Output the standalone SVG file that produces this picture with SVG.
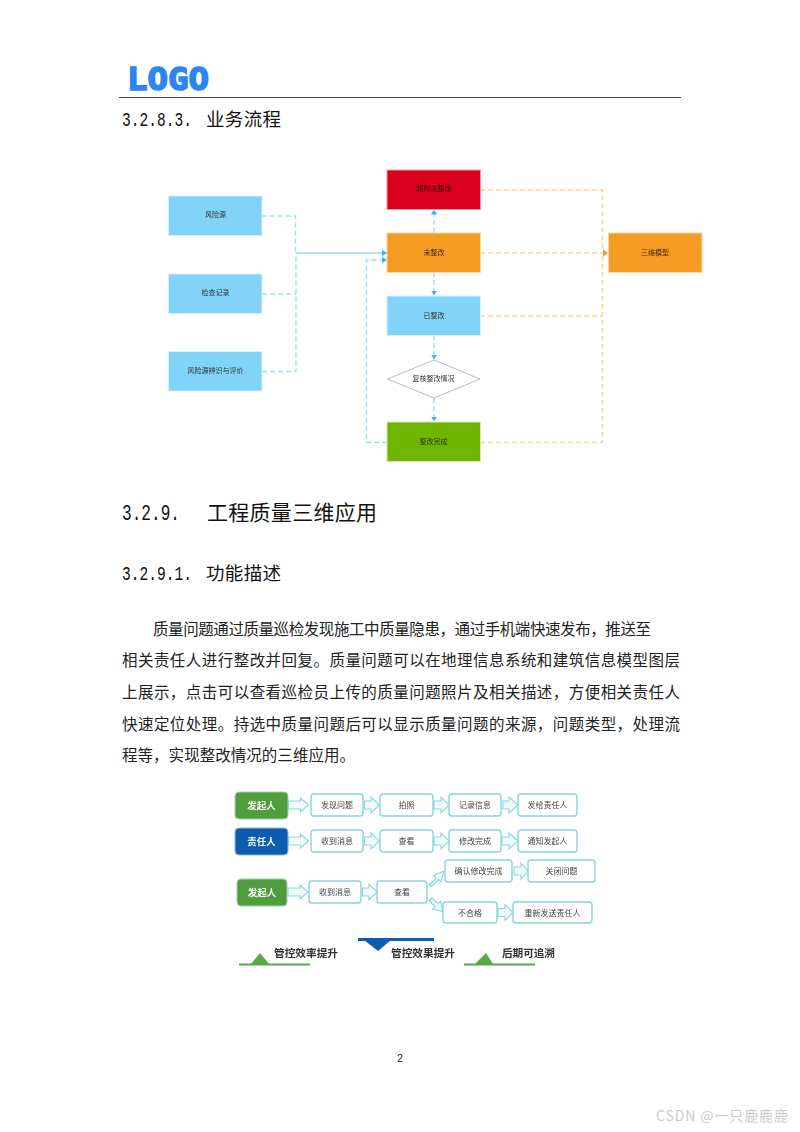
<svg xmlns="http://www.w3.org/2000/svg" width="800" height="1132" viewBox="0 0 800 1132">
<style>
text{font-family:"Noto Sans CJK SC","Liberation Sans",sans-serif;fill:#1a1a1a}
.h{font-size:20px;font-family:"Liberation Mono","Noto Sans CJK SC",monospace;fill:#111}
.hc{font-size:18.5px;fill:#111}
.h2{font-size:21px;fill:#111}
.b{font-size:15.5px;fill:#222}
.n{font-size:7px;text-anchor:middle;fill:#333}
.bl{fill:#81d3f8;stroke:#d4f0fd;stroke-width:1}
.cb{fill:none;stroke:#98dffd;stroke-width:1.4;stroke-dasharray:5 3}
.cs{fill:none;stroke:#98dffd;stroke-width:1.4}
.co{fill:none;stroke:#fdd39b;stroke-width:1.4;stroke-dasharray:5 3}
.p{fill:#fff;stroke:#8ad4de;stroke-width:1.4}
.pt{font-size:8px;text-anchor:middle;fill:#444}
.a{fill:#eefafc;stroke:#8ad4de;stroke-width:1.1}
.m{font-size:9.500px;text-anchor:middle;font-weight:700;fill:#fff}
.l{font-size:10.700px;font-weight:700;fill:#333}
</style>
<defs>
<marker id="ab" markerUnits="userSpaceOnUse" markerWidth="6" markerHeight="6" refX="5" refY="3" orient="auto"><path d="M0 0L5 3L0 6Z" fill="#2cb5f5"/></marker>
<marker id="ao" markerUnits="userSpaceOnUse" markerWidth="6" markerHeight="8" refX="5" refY="4" orient="auto"><path d="M0 0L5 4L0 8Z" fill="#f59a23"/></marker>
<filter id="s" x="-5%" y="-5%" width="110%" height="110%"><feGaussianBlur stdDeviation="0.45"/></filter>
<path id="ar" d="M0 -4H12V-7L20 0L12 7V4H0Z"/>
</defs>
<rect width="800" height="1132" fill="#fff"/>
<g id="header">
<text x="127" y="89.500" font-size="32" textLength="82" lengthAdjust="spacingAndGlyphs" style="font-family:'DejaVu Sans Mono',monospace;font-weight:700;fill:#2b86f5;stroke:#2b86f5;stroke-width:1.6">LOGO</text>
<line x1="119" y1="97.500" x2="681" y2="97.500" stroke="#444" stroke-width="1.200"/>
<text class="h" transform="translate(122 125.500) scale(.73 1)">3.2.8.3.</text>
<text class="hc" x="206" y="126" textLength="75">业务流程</text>
</g>
<g id="flowchart" filter="url(#s)">
<g id="connectors">
<path class="cb" d="M262 216H295.500V253"/>
<path class="cb" d="M262 294H296"/>
<path class="cb" d="M262 371.500H296V254"/>
<path class="cs" d="M296 253H387" marker-end="url(#ab)"/>
<path class="cb" d="M387 442.500H366.500V260H387" marker-end="url(#ab)"/>
<path class="cb" d="M434 233V209.500" marker-end="url(#ab)"/>
<path class="cb" d="M434 272V295.500" marker-end="url(#ab)"/>
<path class="cb" d="M434 335V359.500" marker-end="url(#ab)"/>
<path class="cb" d="M434 398V421.500" marker-end="url(#ab)"/>
<path class="co" d="M480 190H602.500V253"/>
<path class="co" d="M480 253H608" marker-end="url(#ao)"/>
<path class="co" d="M480 316H602.500"/>
<path class="co" d="M480 442.500H602.500V253"/>
</g>
<g id="n-fxy"><rect class="bl" x="168.500" y="196" width="93.500" height="39.500"/><text class="n" x="215.500" y="217">风险源</text></g>
<g id="n-jcjl"><rect class="bl" x="168.500" y="274" width="93.500" height="39.500"/><text class="n" x="215.500" y="295">检查记录</text></g>
<g id="n-bspj"><rect class="bl" x="168.500" y="351.500" width="93.500" height="39.500"/><text class="n" x="215.500" y="373">风险源辨识与评价</text></g>
<g id="n-cs"><rect x="387" y="170" width="93.500" height="39.500" fill="#d9001b" stroke="#f29aa5"/><text class="n" x="434" y="191" style="fill:#3a0a0a">超时未整改</text></g>
<g id="n-wzg"><rect x="387" y="233" width="93.500" height="39.500" fill="#f59a23" stroke="#fcd6a5"/><text class="n" x="434" y="255" style="fill:#3a2a0a">未整改</text></g>
<g id="n-yzg"><rect class="bl" x="387" y="296" width="93.500" height="39.500"/><text class="n" x="434" y="318">已整改</text></g>
<g id="n-fh"><polygon points="387.500,379 434,360 480,379 434,398" fill="#fff" stroke="#bbb" stroke-width="1"/><text class="n" x="433.500" y="381">复核整改情况</text></g>
<g id="n-wc"><rect x="387" y="422" width="93.500" height="39.500" fill="#70b603" stroke="#d6ebb0"/><text class="n" x="433.500" y="444" style="fill:#1e3303">整改完成</text></g>
<g id="n-sw"><rect x="608.500" y="233" width="93.500" height="39.500" fill="#f59a23" stroke="#fcd6a5"/><text class="n" x="655" y="255" style="fill:#3a2a0a">三维模型</text></g>
</g>
<g id="section">
<text class="h" transform="translate(122 519.500) scale(.732 1)" style="font-size:22px">3.2.9.</text>
<text class="h2" x="207" y="520" textLength="170">工程质量三维应用</text>
<text class="h" transform="translate(122 579.500) scale(.73 1)">3.2.9.1.</text>
<text class="hc" x="206" y="580" textLength="75">功能描述</text>
<text class="b" x="153" y="635" textLength="498">质量问题通过质量巡检发现施工中质量隐患&#xFF0C;通过手机端快速发布&#xFF0C;推送至</text>
<text class="b" x="122" y="666" textLength="558">相关责任人进行整改并回复。质量问题可以在地理信息系统和建筑信息模型图层</text>
<text class="b" x="122" y="698" textLength="558">上展示&#xFF0C;点击可以查看巡检员上传的质量问题照片及相关描述&#xFF0C;方便相关责任人</text>
<text class="b" x="122" y="730" textLength="558">快速定位处理。持选中质量问题后可以显示质量问题的来源&#xFF0C;问题类型&#xFF0C;处理流</text>
<text class="b" x="122" y="761" textLength="233">程等&#xFF0C;实现整改情况的三维应用。</text>
</g>
<g id="process" filter="url(#s)">
<g id="process-arrows">
<use href="#ar" class="a" x="288.500" y="805"/>
<path class="a" d="M364.500 801H371V797L379.500 805L371 813V809H364.500Z"/>
<path class="a" d="M434 801H441V797L449 805L441 813V809H434Z"/>
<path class="a" d="M503 801H509V797L518 805L509 813V809H503Z"/>
<use href="#ar" class="a" x="288.500" y="841"/>
<path class="a" d="M364.500 837H371V833L379.500 841L371 849V845H364.500Z"/>
<path class="a" d="M434 837H441V833L449 841L441 849V845H434Z"/>
<path class="a" d="M502 837H509V833L518 841L509 849V845H502Z"/>
<use href="#ar" class="a" x="288" y="892"/>
<path class="a" d="M362.500 888H369V884L377 892L369 900V896H362.500Z"/>
<path class="a" d="M514 867H521V863L528 871L521 879V875H514Z"/>
<path class="a" d="M498 908.500H505V904.500L513 912.500L505 920.500V916.500H498Z"/>
<path class="a" d="M429 885L436 878.500L433.500 875.500L444 871L441 882L438.500 879.500L431.500 886.500Z"/>
<path class="a" d="M429 900.500L432 898L438 903.500L440.500 901L443 911.500L432.500 909L435 906.500Z"/>
</g>
<g id="p-a1"><rect x="235" y="792" width="53" height="27" rx="4" fill="#4f9d3c" stroke="#a5d0ad"/><text class="m" x="261.500" y="809">发起人</text></g>
<g id="p-a2"><rect class="p" x="311" y="794" width="52" height="22" rx="3"/><text class="pt" x="337" y="808">发现问题</text></g>
<g id="p-a3"><rect class="p" x="380" y="794" width="53" height="22" rx="3"/><text class="pt" x="406.500" y="808">拍照</text></g>
<g id="p-a4"><rect class="p" x="449" y="794" width="52" height="22" rx="3"/><text class="pt" x="475" y="808">记录信息</text></g>
<g id="p-a5"><rect class="p" x="518" y="794" width="59" height="22" rx="3"/><text class="pt" x="547.500" y="808">发给责任人</text></g>
<g id="p-b1"><rect x="235" y="828" width="53" height="27" rx="4" fill="#0a5cad" stroke="#8fb8dc"/><text class="m" x="261.500" y="845">责任人</text></g>
<g id="p-b2"><rect class="p" x="311" y="830" width="52" height="22" rx="3"/><text class="pt" x="337" y="844">收到消息</text></g>
<g id="p-b3"><rect class="p" x="380" y="830" width="53" height="22" rx="3"/><text class="pt" x="406.500" y="844">查看</text></g>
<g id="p-b4"><rect class="p" x="449" y="830" width="52" height="22" rx="3"/><text class="pt" x="475" y="844">修改完成</text></g>
<g id="p-b5"><rect class="p" x="518" y="830" width="59" height="22" rx="3"/><text class="pt" x="547.500" y="844">通知发起人</text></g>
<g id="p-c1"><rect x="237" y="879" width="50" height="27" rx="4" fill="#4f9d3c" stroke="#a5d0ad"/><text class="m" x="262" y="896">发起人</text></g>
<g id="p-c2"><rect class="p" x="309" y="881" width="52" height="22" rx="3"/><text class="pt" x="335" y="895">收到消息</text></g>
<g id="p-c3"><rect class="p" x="377" y="881" width="50" height="22" rx="3"/><text class="pt" x="402" y="895">查看</text></g>
<g id="p-c4"><rect class="p" x="445" y="860" width="67" height="22" rx="3"/><text class="pt" x="478.500" y="874">确认修改完成</text></g>
<g id="p-c5"><rect class="p" x="528" y="860" width="67" height="22" rx="3"/><text class="pt" x="561.500" y="874">关闭问题</text></g>
<g id="p-c6"><rect class="p" x="443" y="902" width="54" height="21" rx="3"/><text class="pt" x="470" y="916">不合格</text></g>
<g id="p-c7"><rect class="p" x="513" y="902" width="79" height="21" rx="3"/><text class="pt" x="552.500" y="916">重新发送责任人</text></g>
<g id="legend">
<path d="M239 964.500H310" stroke="#5aa845" stroke-width="2" fill="none"/><polygon points="251,964 260,953 269,964" fill="#5aa845"/>
<text class="l" x="274" y="957" textLength="64">管控效率提升</text>
<path d="M358 939.500H434" stroke="#0a5cad" stroke-width="3" fill="none"/><polygon points="364,940 391,940 378,951" fill="#0a5cad"/>
<text class="l" x="391" y="957" textLength="64">管控效果提升</text>
<path d="M464 964.500H535" stroke="#5aa845" stroke-width="2" fill="none"/><polygon points="475,964 486,953 493,964" fill="#5aa845"/>
<text class="l" x="502" y="957" textLength="53">后期可追溯</text>
</g>
</g>
<text x="400" y="1062" text-anchor="middle" font-size="10" style="fill:#222;font-family:'Liberation Sans',sans-serif">2</text>
<text x="656" y="1121" font-size="14" textLength="132" style="fill:#cccccc">CSDN @一只鹿鹿鹿</text>
</svg>
